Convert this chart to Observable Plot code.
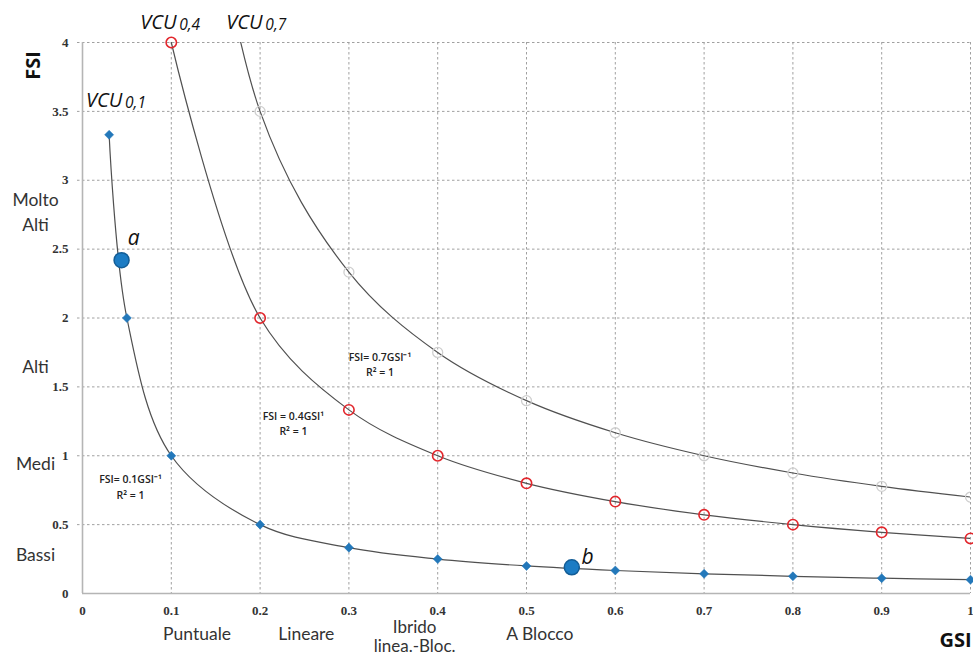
<!DOCTYPE html>
<html>
<head>
<meta charset="utf-8">
<script src="https://cdn.jsdelivr.net/npm/d3@7"></script>
<script src="https://cdn.jsdelivr.net/npm/@observablehq/plot@0.6"></script>
<style>
  html, body { margin: 0; padding: 0; background: #fff; }
</style>
</head>
<body>
<div id="chart"></div>
<script>
// ---- data ----
const gsi01 = [0.03, 0.05, 0.1, 0.2, 0.3, 0.4, 0.5, 0.6, 0.7, 0.8, 0.9, 1.0];
const fsi01 = [3.33, 2.0, 1.0, 0.5, 0.333, 0.25, 0.2, 0.167, 0.143, 0.125, 0.111, 0.1];
const gsi04 = [0.1, 0.2, 0.3, 0.4, 0.5, 0.6, 0.7, 0.8, 0.9, 1.0];
const fsi04 = [4.0, 2.0, 1.333, 1.0, 0.8, 0.667, 0.571, 0.5, 0.444, 0.4];
const gsi07 = [0.1, 0.2, 0.3, 0.4, 0.5, 0.6, 0.7, 0.8, 0.9, 1.0];
const fsi07 = [7.0, 3.5, 2.333, 1.75, 1.4, 1.167, 1.0, 0.875, 0.778, 0.7];

const caseNames = ["a", "b"];
const caseGsi = [0.044, 0.551];
const caseFsi = [2.42, 0.19];
const caseLabelX = [0.051, 0.562];
const caseLabelY = [2.58, 0.26];

const xTicks = [0, 0.1, 0.2, 0.3, 0.4, 0.5, 0.6, 0.7, 0.8, 0.9, 1.0];
const xTickLabels = ["0", "0.1", "0.2", "0.3", "0.4", "0.5", "0.6", "0.7", "0.8", "0.9", "1"];
const yTicks = [0, 0.5, 1, 1.5, 2, 2.5, 3, 3.5, 4];
const yTickLabels = ["0", "0.5", "1", "1.5", "2", "2.5", "3", "3.5", "4"];

const yCats = ["Molto\nAlti", "Alti", "Medi", "Bassi"];
const yCatPos = [2.78, 1.655, 0.95, 0.29];
const xCats = ["Puntuale", "Lineare", "Ibrido\nlinea.-Bloc.", "A Blocco"];
const xCatPos = [0.129, 0.252, 0.374, 0.515];

const vcuMain = ["VCU", "VCU", "VCU"];
const vcuSub = ["0,1", "0,4", "0,7"];
const vcuX = [0.004, 0.065, 0.162];
const vcuY = [3.58, 4.145, 4.145];

const eqText = ["FSI= 0.1GSI\u207B\u00B9\nR\u00B2 = 1", "FSI = 0.4GSI\u00B9\nR\u00B2 = 1", "FSI= 0.7GSI\u207B\u00B9\nR\u00B2 = 1"];
const eqX = [0.054, 0.2375, 0.335];
const eqY = [0.78, 1.24, 1.67];

// ---- tables ----
const s01 = gsi01.map((g, i) => ({gsi: g, fsi: fsi01[i]}));
const s04 = gsi04.map((g, i) => ({gsi: g, fsi: fsi04[i]}));
const s07 = gsi07.map((g, i) => ({gsi: g, fsi: fsi07[i]}));
const cases = caseNames.map((n, i) => ({name: n, gsi: caseGsi[i], fsi: caseFsi[i], lx: caseLabelX[i], ly: caseLabelY[i]}));
const vcu = vcuMain.map((m, i) => ({main: m, sub: vcuSub[i], x: vcuX[i], y: vcuY[i]}));
const eqs = eqText.map((t, i) => ({t, x: eqX[i], y: eqY[i]}));
const xCatRows = xCats.map((t, i) => ({t, x: xCatPos[i], multi: t.includes("\n")}));

const gridColor = "#a0a0a0";
const lineColor = "#505050";
const blue = "#2378ba";
const red = "#e2262c";
const tickFont = "Liberation Serif";
const labFont = "Lato";

const chart = Plot.plot({
  width: 973,
  height: 657,
  marginLeft: 82,
  marginRight: 3,
  marginTop: 42,
  marginBottom: 64,
  x: {domain: [0, 1]},
  y: {domain: [0, 4]},
  style: {background: "#fff"},
  marks: [
    Plot.gridX(xTicks.slice(1), {stroke: gridColor, strokeOpacity: 1, strokeDasharray: "2.5,2.5"}),
    Plot.gridY(yTicks.slice(1), {stroke: gridColor, strokeOpacity: 1, strokeDasharray: "2.5,2.5", x1: 0, x2: 1, insetLeft: -5}),
    Plot.ruleX([0], {stroke: "#b5b5b5", strokeWidth: 1.6}),
    Plot.ruleY([0], {stroke: "#b5b5b5", strokeWidth: 1.6}),
    Plot.axisX({ticks: xTicks, tickFormat: (d, i) => xTickLabels[i], tickSize: 0, tickPadding: 12,
      fontFamily: tickFont, fontWeight: "bold", fontSize: 13, fill: "#333", label: null}),
    Plot.axisY({ticks: yTicks, tickFormat: (d, i) => yTickLabels[i], tickSize: 0, tickPadding: 14,
      fontFamily: tickFont, fontWeight: "bold", fontSize: 13, fill: "#333", label: null}),

    // fitted lines
    Plot.line(s07, {x: "gsi", y: "fsi", curve: "catmull-rom", stroke: lineColor, strokeWidth: 1.2, clip: true}),
    Plot.line(s04, {x: "gsi", y: "fsi", curve: "catmull-rom", stroke: lineColor, strokeWidth: 1.2, clip: true}),
    Plot.line(s01, {x: "gsi", y: "fsi", curve: "catmull-rom", stroke: lineColor, strokeWidth: 1.2, clip: true}),

    // points
    Plot.dot(s07, {x: "gsi", y: "fsi", r: 5, stroke: "#cfcfcf", strokeWidth: 1.3, fill: "none", clip: true}),
    Plot.dot(s04, {x: "gsi", y: "fsi", r: 5.2, stroke: red, strokeWidth: 1.6, fill: "none"}),
    Plot.dot(s01, {x: "gsi", y: "fsi", r: 3.6, symbol: "square", rotate: 45, fill: blue, stroke: blue, strokeWidth: 0.5}),
    Plot.dot(cases, {x: "gsi", y: "fsi", r: 7.5, fill: "#1c7cc4", stroke: "#135d96", strokeWidth: 1.5}),
    Plot.text(cases, {x: "lx", y: "ly", text: "name", textAnchor: "start",
      fontFamily: "Open Sans", fontStyle: "italic", fontSize: 21, fill: "#111"}),

    // equation annotations
    Plot.text(eqs, {x: "x", y: "y", text: "t", fontFamily: "Open Sans", fontWeight: 600, fontSize: 10.5,
      lineHeight: 1.45, fill: "#222"}),

    // series labels
    Plot.text(vcu, {x: "x", y: "y", text: "main", textAnchor: "start", fontFamily: "Open Sans",
      fontStyle: "italic", fontSize: 20, fill: "#111"}),
    Plot.text(vcu, {x: "x", y: "y", text: "sub", textAnchor: "start", dx: 39, dy: 3, fontFamily: "Open Sans",
      fontStyle: "italic", fontSize: 15.5, fill: "#111"}),

    // category labels
    Plot.text(yCats, {x: 0, y: (d, i) => yCatPos[i], text: d => d, dx: -47, textAnchor: "middle",
      fontFamily: labFont, fontSize: 17.5, lineHeight: 1.4, fill: "#333"}),
    Plot.text(xCatRows.filter(d => !d.multi), {x: "x", y: 0, text: "t", dy: 41, textAnchor: "middle",
      fontFamily: labFont, fontSize: 17.5, fill: "#333"}),
    Plot.text(xCatRows.filter(d => d.multi), {x: "x", y: 0, text: "t", dy: 43, textAnchor: "middle",
      fontFamily: labFont, fontSize: 17, lineHeight: 1.12, fill: "#333"}),

    // axis titles
    Plot.text(["FSI"], {frameAnchor: "top-left", text: d => d, dx: -49, dy: 23, rotate: -90,
      textAnchor: "middle", lineAnchor: "middle",
      fontFamily: "Open Sans", fontWeight: "bold", fontSize: 20, fill: "#111"}),
    Plot.text(["GSI"], {frameAnchor: "bottom-right", text: d => d, dx: -15, dy: 47,
      textAnchor: "middle", lineAnchor: "middle",
      fontFamily: "Open Sans", fontWeight: "bold", fontSize: 20, fill: "#111"})
  ]
});
document.getElementById("chart").appendChild(chart);
</script>
</body>
</html>
